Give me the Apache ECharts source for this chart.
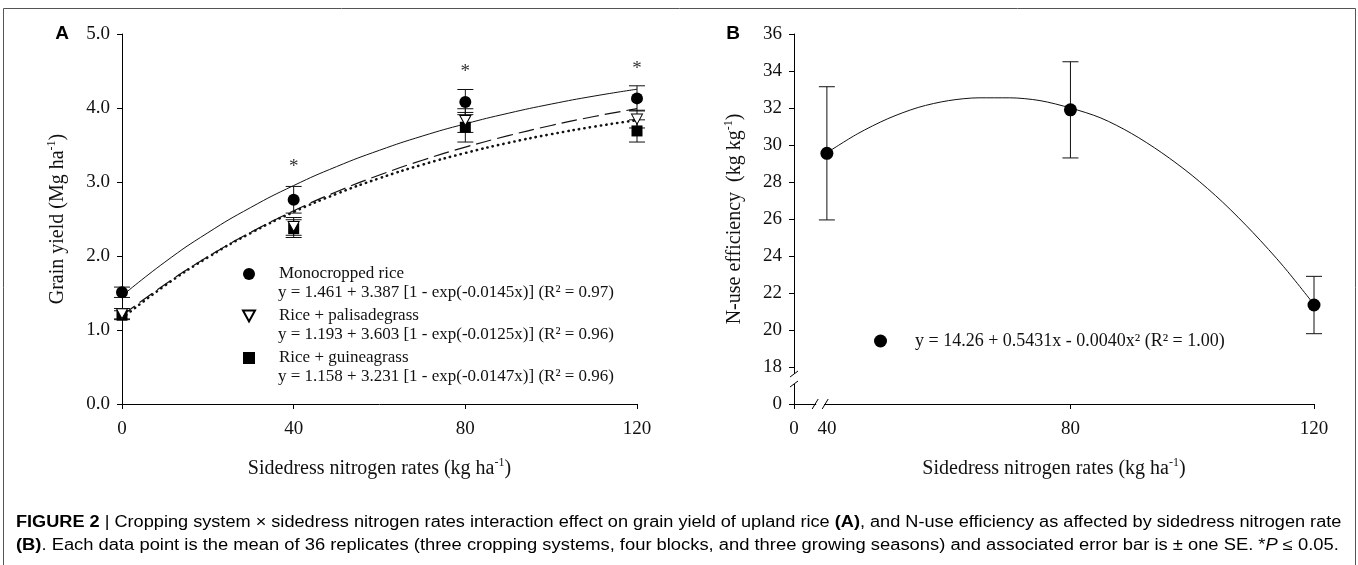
<!DOCTYPE html>
<html>
<head>
<meta charset="utf-8">
<script src="https://cdn.jsdelivr.net/npm/echarts@6.0.0/dist/echarts.min.js"></script>
<style>
html, body { margin: 0; padding: 0; background: #fff; }
#main { width: 1358px; height: 565px; }
</style>
</head>
<body>
<div id="main"></div>
<script>
// panel A: grain yield by sidedress N rate
var rates = [0, 40, 80, 120];
var monoMean = [1.51, 2.76, 4.08, 4.13];
var monoSE = [0.07, 0.18, 0.17, 0.17];
var palMean = [1.22, 2.40, 3.83, 3.85];
var palSE = [0.07, 0.12, 0.16, 0.12];
var guiMean = [1.20, 2.37, 3.74, 3.69];
var guiSE = [0.06, 0.12, 0.20, 0.15];
var starY = [null, 3.20, 4.48, 4.53];

// fitted curves, read along x
var fitX = [0, 10, 20, 30, 40, 50, 60, 70, 80, 90, 100, 110, 120];
var monoFit = [1.461, 1.918, 2.314, 2.656, 2.952, 3.208, 3.429, 3.621, 3.786, 3.929, 4.053, 4.161, 4.254];
var palFit = [1.193, 1.616, 1.990, 2.320, 2.611, 2.868, 3.094, 3.294, 3.471, 3.626, 3.764, 3.885, 3.992];
var guiFit = [1.158, 1.600, 1.981, 2.310, 2.595, 2.840, 3.051, 3.234, 3.392, 3.529, 3.646, 3.748, 3.836];

var yTicksA = [0, 1, 2, 3, 4, 5];

// panel B: N-use efficiency
var nueX = [40, 80, 120];
var nueMean = [29.55, 31.9, 21.35];
var nueSE = [3.6, 2.6, 1.55];
var nueFitX = [40, 45, 50, 55, 60, 65, 70, 75, 80, 85, 90, 95, 100, 105, 110, 115, 120];
var nueFit = [29.58, 30.6, 31.42, 32.03, 32.4, 32.55, 32.55, 32.4, 32.0, 31.46, 30.63, 29.58, 28.35, 26.91, 25.26, 23.43, 21.38];
var xLabelsB = [34.6, 40, 80, 120];   // 34.6 sits where the broken axis shows "0"

var eqA = [
    'y = 1.461 + 3.387 [1 - exp(-0.0145x)] (R\u00b2 = 0.97)',
    'y = 1.193 + 3.603 [1 - exp(-0.0125x)] (R\u00b2 = 0.96)',
    'y = 1.158 + 3.231 [1 - exp(-0.0147x)] (R\u00b2 = 0.96)'
];
var eqB = 'y = 14.26 + 0.5431x - 0.0040x\u00b2 (R\u00b2 = 1.00)';

var serif = '"Liberation Serif", "Times New Roman", serif';
var ink = '#111';

function pairs(xs, ys) {
    return xs.map(function (x, i) { return [x, ys[i]]; });
}
function bars(xs, m, se) {
    return xs.map(function (x, i) { return [x, m[i] - se[i], m[i] + se[i]]; });
}
function errorBar(cap) {
    return function (params, api) {
        var top = api.coord([api.value(0), api.value(2)]);
        var bot = api.coord([api.value(0), api.value(1)]);
        var st = { stroke: ink, lineWidth: 1 };
        return {
            type: 'group',
            children: [
                { type: 'line', shape: { x1: top[0], y1: top[1], x2: bot[0], y2: bot[1] }, style: st },
                { type: 'line', shape: { x1: top[0] - cap, y1: top[1], x2: top[0] + cap, y2: top[1] }, style: st },
                { type: 'line', shape: { x1: bot[0] - cap, y1: bot[1], x2: bot[0] + cap, y2: bot[1] }, style: st }
            ]
        };
    };
}

var axisBase = {
    axisLine: { lineStyle: { color: '#000', width: 1 } },
    axisTick: { inside: false, length: 5, lineStyle: { color: '#000' } },
    splitLine: { show: false },
    axisLabel: { color: ink, fontFamily: serif, fontSize: 19 }
};
var nameRich = {
    n: { fontFamily: serif, fontSize: 20, color: ink, lineHeight: 24 },
    s: { fontFamily: serif, fontSize: 12, color: ink, verticalAlign: 'top', lineHeight: 12 }
};
var triDown = 'path://M0,0 L10,0 L5,9 Z';

var chart = echarts.init(document.getElementById('main'));

chart.setOption({
    animation: false,
    backgroundColor: '#fff',
    grid: [
        { left: 122, top: 34, width: 515, height: 370 },
        { left: 794, top: 34, width: 520, height: 370 }
    ],
    xAxis: [
        Object.assign({}, axisBase, {
            gridIndex: 0, type: 'value', min: 0, max: 120, interval: 40,
            axisLabel: Object.assign({}, axisBase.axisLabel, { margin: 16 }),
            name: '{n|Sidedress nitrogen rates (kg ha}{s|-1}{n|)}',
            nameLocation: 'middle', nameGap: 53,
            nameTextStyle: { rich: nameRich }
        }),
        Object.assign({}, axisBase, {
            gridIndex: 1, type: 'value', min: 34.6, max: 120,
            axisTick: { length: 5, lineStyle: { color: '#000' }, customValues: [34.6, 80, 120] },
            axisLabel: Object.assign({}, axisBase.axisLabel, {
                margin: 16, customValues: xLabelsB,
                formatter: function (v) { return v < 35 ? '0' : String(v); }
            }),
            name: '{n|Sidedress nitrogen rates (kg ha}{s|-1}{n|)}',
            nameLocation: 'middle', nameGap: 53,
            nameTextStyle: { rich: nameRich }
        })
    ],
    yAxis: [
        Object.assign({}, axisBase, {
            gridIndex: 0, type: 'value', min: yTicksA[0], max: yTicksA[yTicksA.length - 1], interval: 1,
            axisLabel: Object.assign({}, axisBase.axisLabel, {
                margin: 12,
                formatter: function (v) { return v.toFixed(1); }
            }),
            name: '{n|Grain yield (Mg ha}{s|-1}{n|)}',
            nameLocation: 'middle', nameGap: 52,
            nameTextStyle: { rich: nameRich }
        }),
        Object.assign({}, axisBase, {
            gridIndex: 1, type: 'value', min: 16, max: 36, interval: 2,
            axisLabel: Object.assign({}, axisBase.axisLabel, {
                margin: 12,
                formatter: function (v) { return v === 16 ? '0' : String(v); }
            }),
            name: '{n|N-use efficiency  (kg kg}{s|-1}{n|)}',
            nameLocation: 'middle', nameGap: 47,
            nameTextStyle: { rich: nameRich }
        })
    ],
    legend: [
        {
            orient: 'vertical', left: 242, top: 265.5, padding: 0,
            itemWidth: 12, itemHeight: 12, itemGap: 25,
            selectedMode: false,
            data: ['Monocropped rice', 'Rice + palisadegrass', 'Rice + guineagrass'],
            formatter: function (name) { return '{p|}{t|' + name + '}'; },
            textStyle: {
                rich: {
                    p: { width: 19 },
                    t: { fontFamily: serif, fontSize: 17, color: ink, lineHeight: 21 }
                }
            }
        },
        {
            left: 874, top: 332, padding: 0, itemWidth: 13, itemHeight: 13,
            selectedMode: false,
            data: [eqB],
            formatter: function (name) { return '{p|}{t|' + name + '}'; },
            textStyle: {
                rich: {
                    p: { width: 23 },
                    t: { fontFamily: serif, fontSize: 18, color: ink, lineHeight: 21 }
                }
            }
        }
    ],
    series: [
        // fitted lines, panel A
        { type: 'line', xAxisIndex: 0, yAxisIndex: 0, data: pairs(fitX, monoFit), smooth: true, showSymbol: false,
          lineStyle: { color: ink, width: 1 }, silent: true, z: 1 },
        { type: 'line', xAxisIndex: 0, yAxisIndex: 0, data: pairs(fitX, palFit), smooth: true, showSymbol: false,
          lineStyle: { color: ink, width: 1.2, type: [16, 6] }, silent: true, z: 1 },
        { type: 'line', xAxisIndex: 0, yAxisIndex: 0, data: pairs(fitX, guiFit), smooth: true, showSymbol: false,
          lineStyle: { color: ink, width: 2.6, type: [0.3, 5.2], cap: 'round' }, silent: true, z: 1 },
        // error bars, panel A
        { type: 'custom', xAxisIndex: 0, yAxisIndex: 0, data: bars(rates, guiMean, guiSE),
          encode: { x: 0, y: [1, 2] }, renderItem: errorBar(8), z: 2 },
        { type: 'custom', xAxisIndex: 0, yAxisIndex: 0, data: bars(rates, palMean, palSE),
          encode: { x: 0, y: [1, 2] }, renderItem: errorBar(8), z: 2 },
        { type: 'custom', xAxisIndex: 0, yAxisIndex: 0, data: bars(rates, monoMean, monoSE),
          encode: { x: 0, y: [1, 2] }, renderItem: errorBar(8), z: 2 },
        // means, panel A
        { name: 'Rice + guineagrass', type: 'scatter', xAxisIndex: 0, yAxisIndex: 0, data: pairs(rates, guiMean),
          symbol: 'rect', symbolSize: 11, itemStyle: { color: '#000', opacity: 1 }, z: 3 },
        { name: 'Rice + palisadegrass', type: 'scatter', xAxisIndex: 0, yAxisIndex: 0, data: pairs(rates, palMean),
          symbol: triDown, symbolSize: [11, 10], itemStyle: { color: '#fff', borderColor: '#000', borderWidth: 1, opacity: 1 }, z: 3 },
        { name: 'Monocropped rice', type: 'scatter', xAxisIndex: 0, yAxisIndex: 0, data: pairs(rates, monoMean),
          symbol: 'circle', symbolSize: 12, itemStyle: { color: '#000', opacity: 1 }, z: 4 },
        // significance stars
        { type: 'custom', xAxisIndex: 0, yAxisIndex: 0,
          data: pairs(rates, starY).filter(function (d) { return d[1] !== null; }),
          renderItem: function (params, api) {
              var p = api.coord([api.value(0), api.value(1)]);
              return { type: 'text', x: p[0], y: p[1],
                       style: { text: '*', font: '19px ' + serif, fill: '#333', align: 'center', verticalAlign: 'middle' } };
          }, z: 4 },
        // panel B
        { type: 'line', xAxisIndex: 1, yAxisIndex: 1, data: pairs(nueFitX, nueFit), smooth: 0.3, showSymbol: false,
          lineStyle: { color: ink, width: 1 }, silent: true, z: 1 },
        { type: 'custom', xAxisIndex: 1, yAxisIndex: 1, data: bars(nueX, nueMean, nueSE),
          encode: { x: 0, y: [1, 2] }, renderItem: errorBar(8), z: 2 },
        { name: eqB, type: 'scatter', xAxisIndex: 1, yAxisIndex: 1, data: pairs(nueX, nueMean),
          symbol: 'circle', symbolSize: 13, itemStyle: { color: '#000', opacity: 1 }, z: 3 }
    ]
});

// decorations placed from the axes: equations, axis breaks, labels, caption, frame
var gfx = [];
var legendY = [293, 335, 377];
eqA.forEach(function (t, i) {
    gfx.push({ type: 'text', x: 278, y: legendY[i], silent: true,
               style: { text: t, font: '17px ' + serif, fill: ink, verticalAlign: 'middle' } });
});

var x0 = chart.convertToPixel({ xAxisIndex: 1 }, 34.6);
var yb = chart.convertToPixel({ yAxisIndex: 1 }, 17.35);
var y0 = chart.convertToPixel({ yAxisIndex: 1 }, 16);
var xb = chart.convertToPixel({ xAxisIndex: 1 }, 38.9);
var slash = { stroke: '#000', lineWidth: 1 };
// y-axis break
gfx.push({ type: 'rect', shape: { x: x0 - 2, y: yb - 5, width: 4, height: 10 }, style: { fill: '#fff' }, z: 50 });
gfx.push({ type: 'line', shape: { x1: x0 - 4, y1: yb - 2, x2: x0 + 4, y2: yb - 8 }, style: slash, z: 51 });
gfx.push({ type: 'line', shape: { x1: x0 - 4, y1: yb + 8, x2: x0 + 4, y2: yb + 2 }, style: slash, z: 51 });
// x-axis break
gfx.push({ type: 'rect', shape: { x: xb - 4, y: y0 - 2, width: 8, height: 4 }, style: { fill: '#fff' }, z: 50 });
gfx.push({ type: 'line', shape: { x1: xb - 8, y1: y0 + 5, x2: xb - 2, y2: y0 - 5 }, style: slash, z: 51 });
gfx.push({ type: 'line', shape: { x1: xb + 2, y1: y0 + 5, x2: xb + 8, y2: y0 - 5 }, style: slash, z: 51 });

// panel letters
gfx.push({ type: 'text', x: 62, y: 34, style: { text: 'A', font: 'bold 19px "Liberation Sans", Arial, sans-serif', fill: '#000', align: 'center', verticalAlign: 'middle' } });
gfx.push({ type: 'text', x: 733, y: 34, style: { text: 'B', font: 'bold 19px "Liberation Sans", Arial, sans-serif', fill: '#000', align: 'center', verticalAlign: 'middle' } });

// caption
var capFont = '"Liberation Sans Narrow", "Liberation Sans", Arial, sans-serif';
var capRich = {
    r: { fontFamily: capFont, fontSize: 16, color: '#231f20' },
    b: { fontFamily: capFont, fontSize: 16, fontWeight: 'bold', color: '#231f20' },
    i: { fontFamily: capFont, fontSize: 16, fontStyle: 'italic', color: '#231f20' }
};
gfx.push({ type: 'text', x: 16, y: 523, scaleX: 1.134, silent: true, style: {
    text: '{b|FIGURE 2}{r| | Cropping system \u00d7 sidedress nitrogen rates interaction effect on grain yield of upland rice }{b|(A)}{r|, and N-use efficiency as affected by sidedress nitrogen rate}',
    rich: capRich, verticalAlign: 'middle' } });
gfx.push({ type: 'text', x: 16, y: 546, scaleX: 1.147, silent: true, style: {
    text: '{b|(B)}{r|. Each data point is the mean of 36 replicates (three cropping systems, four blocks, and three growing seasons) and associated error bar is \u00b1 one SE. *}{i|P}{r| \u2264 0.05.}',
    rich: capRich, verticalAlign: 'middle' } });

// figure frame
gfx.push({ type: 'polyline', shape: { points: [[3.5, 575], [3.5, 8.5], [1355.5, 8.5], [1355.5, 575]] },
           style: { stroke: '#555', lineWidth: 1, fill: null }, silent: true });

chart.setOption({ graphic: gfx });
</script>
</body>
</html>
